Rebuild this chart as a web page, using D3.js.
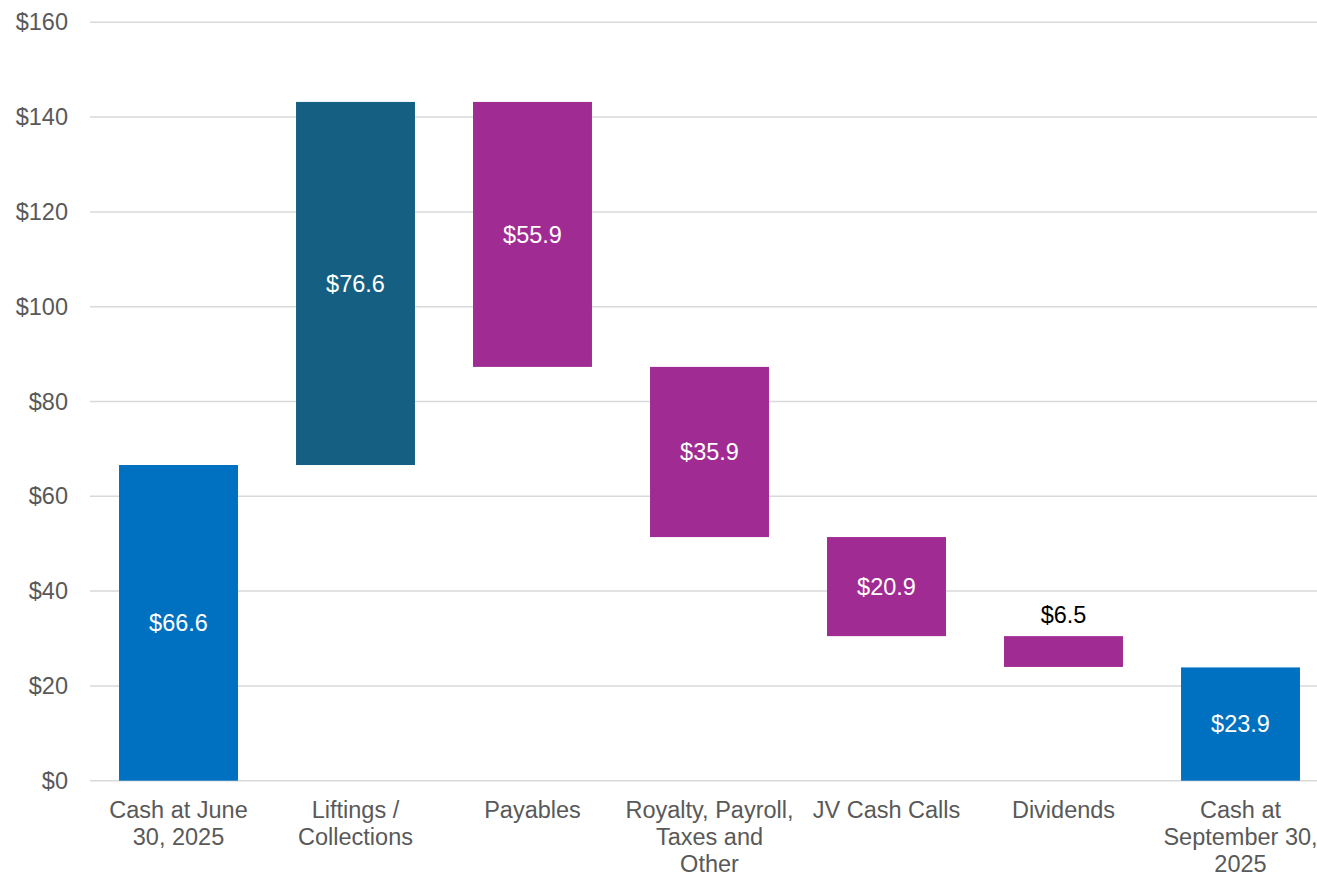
<!DOCTYPE html>
<html>
<head>
<meta charset="utf-8">
<script src="https://cdn.jsdelivr.net/npm/d3@7"></script>
<style>
  html, body { margin: 0; padding: 0; background: #fff; overflow: hidden; }
  svg { display: block; font-family: "Liberation Sans", Arial, sans-serif; }
</style>
</head>
<body>
<svg id="chart" width="1317" height="875"></svg>
<script>
// Cash bridge, $ millions
const categories = [
  ["Cash at June", "30, 2025"],
  ["Liftings /", "Collections"],
  ["Payables"],
  ["Royalty, Payroll,", "Taxes and", "Other"],
  ["JV Cash Calls"],
  ["Dividends"],
  ["Cash at", "September 30,", "2025"]
];
// kind: "total" bars start from zero, "up"/"down" float from the running total
const kinds  = ["total", "up", "down", "down", "down", "down", "total"];
const values = [66.6, 76.6, 55.9, 35.9, 20.9, 6.5, 23.9];
const yTicks = [0, 20, 40, 60, 80, 100, 120, 140, 160];

const colors = { total: "#0070C0", up: "#156082", down: "#A02B93" };

const svg = d3.select("#chart");
const plotLeft = 90, plotTop = 22.3, plotBottom = 780.7;
const step = 177;
const plotRight = plotLeft + step * categories.length;

// running totals -> bar extents
let running = 0;
const bars = values.map((v, i) => {
  let y0, y1;
  if (kinds[i] === "total") { y0 = 0; y1 = v; running = v; }
  else if (kinds[i] === "up") { y0 = running; y1 = running + v; running = y1; }
  else { y0 = running - v; y1 = running; running = y0; }
  return { i, v, kind: kinds[i], lo: y0, hi: y1 };
});

const x = d3.scaleBand()
  .domain(d3.range(categories.length))
  .range([plotLeft, plotRight])
  .paddingInner(0.328)
  .paddingOuter(0.164);

const y = d3.scaleLinear().domain([0, 160]).range([plotBottom, plotTop]);

// gridlines
svg.append("g")
  .selectAll("line")
  .data(yTicks)
  .join("line")
  .attr("x1", plotLeft).attr("x2", plotRight)
  .attr("y1", d => y(d)).attr("y2", d => y(d))
  .attr("stroke", "#d9d9d9")
  .attr("stroke-width", 1.5);

// y axis labels
const yAxis = d3.axisLeft(y).tickValues(yTicks).tickFormat(d => "$" + d).tickSize(0).tickPadding(0);
const gy = svg.append("g").attr("transform", "translate(68,0)").call(yAxis);
gy.select(".domain").remove();
gy.selectAll("text")
  .attr("fill", "#595959")
  .style("font-size", "23.5px")
  .style("font-family", "'Liberation Sans', Arial, sans-serif");

// bars
svg.append("g")
  .selectAll("rect")
  .data(bars)
  .join("rect")
  .attr("x", d => x(d.i))
  .attr("width", x.bandwidth())
  .attr("y", d => y(d.hi))
  .attr("height", d => y(d.lo) - y(d.hi))
  .attr("fill", d => colors[d.kind]);

// value labels: inside the bar when it fits, above it otherwise
svg.append("g")
  .selectAll("text")
  .data(bars)
  .join("text")
  .attr("x", d => x(d.i) + x.bandwidth() / 2)
  .attr("y", d => {
    const h = y(d.lo) - y(d.hi);
    return h > 40 ? (y(d.lo) + y(d.hi)) / 2 : y(d.hi) - 21;
  })
  .attr("dy", "0.35em")
  .attr("text-anchor", "middle")
  .attr("fill", d => (y(d.lo) - y(d.hi) > 40 ? "#ffffff" : "#000000"))
  .style("font-size", "23.5px")
  .text(d => "$" + d.v.toFixed(1));

// category labels
const xAxis = d3.axisBottom(x).tickSize(0).tickFormat(() => "");
const gx = svg.append("g").attr("transform", `translate(0,${plotBottom})`).call(xAxis);
gx.select(".domain").remove();
gx.selectAll(".tick").each(function(i) {
  const t = d3.select(this).select("text")
    .attr("fill", "#595959")
    .attr("y", 0).attr("dy", null)
    .style("font-size", "23.5px")
    .style("font-family", "'Liberation Sans', Arial, sans-serif");
  categories[i].forEach((line, k) => {
    t.append("tspan").attr("x", 0).attr("y", 37 + k * 27).text(line);
  });
});
</script>
</body>
</html>
